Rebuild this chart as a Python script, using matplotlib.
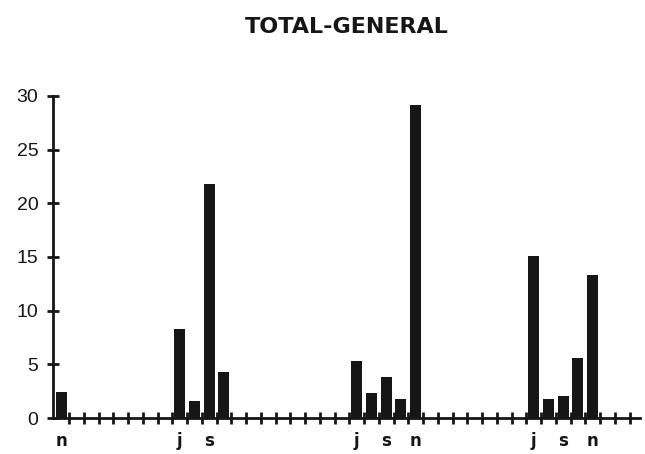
import matplotlib
matplotlib.use("Agg")
import matplotlib.pyplot as plt
import numpy as np

# Monthly series from Nov (year 0) through Feb (year 4)
month_letters = ["n", "d",
                 "j", "f", "m", "a", "m", "j", "j", "a", "s", "o", "n", "d",
                 "j", "f", "m", "a", "m", "j", "j", "a", "s", "o", "n", "d",
                 "j", "f", "m", "a", "m", "j", "j", "a", "s", "o", "n", "d",
                 "j", "f"]
values = [2.4, 0,
          0, 0, 0, 0, 0, 0, 8.3, 1.6, 21.8, 4.3, 0, 0,
          0, 0, 0, 0, 0, 0, 5.3, 2.3, 3.8, 1.8, 29.1, 0,
          0, 0, 0, 0, 0, 0, 15.1, 1.8, 2.1, 5.6, 13.3, 0,
          0, 0]
# which months carry a label on the x axis
shown_labels = ["n", "", "", "", "", "", "", "", "j", "", "s", "", "", "",
                "", "", "", "", "", "", "j", "", "s", "", "n", "",
                "", "", "", "", "", "", "j", "", "s", "", "n", "", "", ""]
yticks = [0, 5, 10, 15, 20, 25, 30]
title = "TOTAL-GENERAL"

fig = plt.figure(figsize=(6.45, 4.54), dpi=100)
ax = fig.add_axes([0.082, 0.079, 0.910, 0.710])

x = np.arange(len(values))
heights = np.array(values, dtype=float)
mask = heights > 0
ax.bar(x[mask], heights[mask], width=0.75, color="#161616", zorder=3)

ax.set_xlim(-0.6, 39.2)
ax.set_ylim(0, 30)

for s in ["top", "right"]:
    ax.spines[s].set_visible(False)
for s in ["left", "bottom"]:
    ax.spines[s].set_linewidth(2.0)
    ax.spines[s].set_color("#161616")

ax.set_yticks(yticks)
ax.set_yticklabels([str(v) for v in yticks], fontsize=14, family="Liberation Sans")
ax.tick_params(axis="y", direction="inout", length=9, width=2, color="#161616",
               pad=6, labelcolor="#161616")

ax.set_xticks(x)
ax.set_xticklabels(shown_labels, fontsize=12, fontweight="bold", family="DejaVu Sans")
ax.tick_params(axis="x", which="major", length=0, pad=10, labelcolor="#161616")
ax.set_xticks(np.arange(0.5, 39.0, 1.0), minor=True)
ax.tick_params(axis="x", which="minor", direction="inout", length=8, width=2,
               color="#161616")

fig.text(0.538, 0.94, title, ha="center", va="center", fontsize=16,
         fontweight="bold", color="#161616", family="DejaVu Sans")

fig.savefig("out.png", dpi=100, facecolor="white")
